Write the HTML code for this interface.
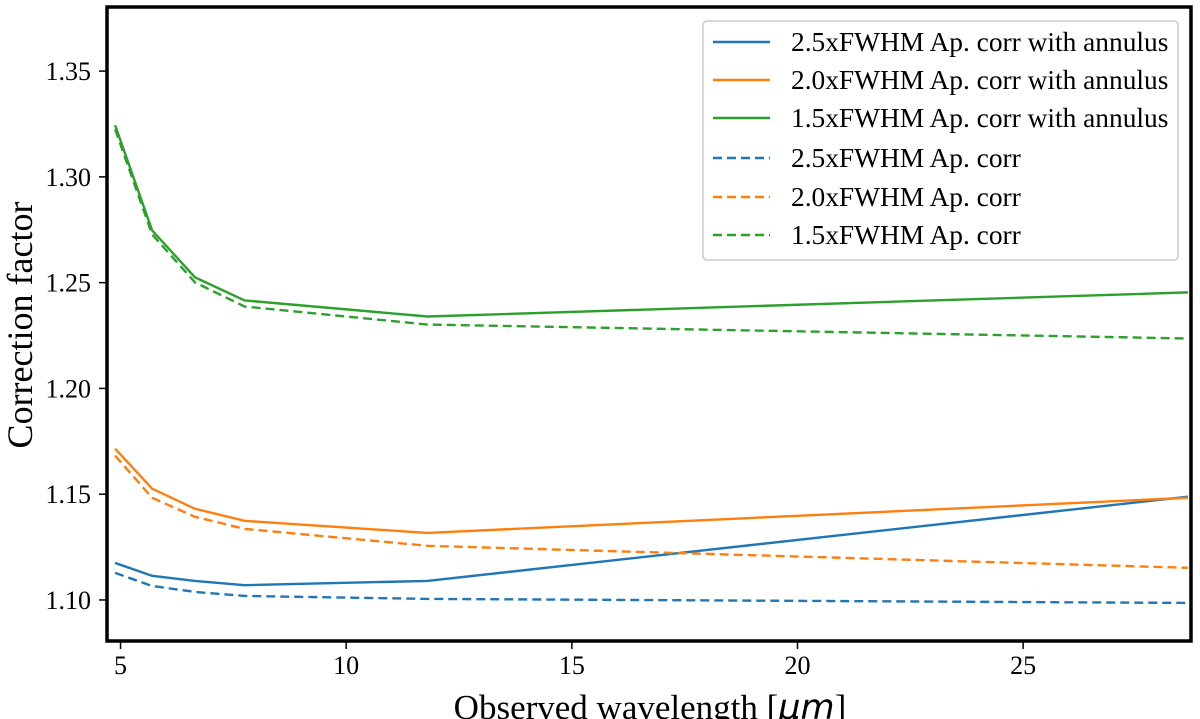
<!DOCTYPE html>
<html><head><meta charset="utf-8"><style>
body{margin:0;background:#fff}
svg{display:block;font-family:"Liberation Serif",serif}
</style></head><body>
<svg id="chart" width="1200" height="719"></svg>
<script>
const xs = [4.88, 5.7, 6.65, 7.75, 11.8, 28.65];
const blueSolid = [1.1175, 1.1114, 1.109, 1.107, 1.109, 1.1488];
const blueDashed = [1.1128, 1.1066, 1.1038, 1.1019, 1.1005, 1.0986];
const orangeSolid = [1.1715, 1.1526, 1.1431, 1.1374, 1.1317, 1.1483];
const orangeDashed = [1.1682, 1.1483, 1.1393, 1.1336, 1.1256, 1.1152];
const greenSolid = [1.3244, 1.2747, 1.2525, 1.2416, 1.234, 1.2454];
const greenDashed = [1.3225, 1.2728, 1.2501, 1.2387, 1.2302, 1.2236];
const xTicks = [5, 10, 15, 20, 25];
const yTicks = [1.10, 1.15, 1.20, 1.25, 1.30, 1.35];
const labels = ["2.5xFWHM Ap. corr with annulus","2.0xFWHM Ap. corr with annulus","1.5xFWHM Ap. corr with annulus","2.5xFWHM Ap. corr","2.0xFWHM Ap. corr","1.5xFWHM Ap. corr"];

const NS="http://www.w3.org/2000/svg";
const svg=document.getElementById('chart');
const X0=107,X1=1191,Y0=7,Y1=641;
const xmin=4.70,xmax=28.72,ymin=1.0806,ymax=1.3803;
const sx=v=>X0+(v-xmin)/(xmax-xmin)*(X1-X0);
const sy=v=>Y1-(v-ymin)/(ymax-ymin)*(Y1-Y0);
function mk(t,a){const e=document.createElementNS(NS,t);for(const k in a)e.setAttribute(k,a[k]);svg.appendChild(e);return e;}

const series=[
 [blueSolid,'#1f77b4',false,'series-2p5-annulus'],
 [orangeSolid,'#ff7f0e',false,'series-2p0-annulus'],
 [greenSolid,'#2ca02c',false,'series-1p5-annulus'],
 [blueDashed,'#1f77b4',true,'series-2p5'],
 [orangeDashed,'#ff7f0e',true,'series-2p0'],
 [greenDashed,'#2ca02c',true,'series-1p5']];
series.forEach(s=>{
 const p=mk('polyline',{points:xs.map((x,i)=>sx(x)+','+sy(s[0][i])).join(' '),fill:'none',stroke:s[1],'stroke-width':2.4,'stroke-dasharray':s[2]?'9,5':'none'});
 
 
});

xTicks.forEach(t=>{
 const l=mk('line',{x1:sx(t),x2:sx(t),y1:Y1,y2:Y1+8,stroke:'#000','stroke-width':1.5});
 
 
 const tx=mk('text',{x:sx(t),y:Y1+33,'text-anchor':'middle','font-size':26});
 tx.textContent=t;
 
 
});
yTicks.forEach(t=>{
 const l=mk('line',{x1:X0-8,x2:X0,y1:sy(t),y2:sy(t),stroke:'#000','stroke-width':1.5});
 
 
 const tx=mk('text',{x:X0-16,y:sy(t)+9,'text-anchor':'end','font-size':26});
 tx.textContent=t.toFixed(2);
 
 
});
const fr=mk('rect',{x:X0,y:Y0,width:X1-X0,height:Y1-Y0,fill:'none',stroke:'#000','stroke-width':3.5});



const xl=mk('text',{x:650,y:719,'text-anchor':'middle','font-size':35});
xl.innerHTML='Observed wavelength [<tspan font-style="italic" font-family="DejaVu Sans">μm</tspan>]';


const yl=mk('text',{x:0,y:0,'text-anchor':'middle','font-size':36,transform:'translate(32,325) rotate(-90)'});
yl.textContent='Correction factor';



const lg=mk('rect',{x:703,y:21,width:475,height:239,rx:4,fill:'#fff','fill-opacity':0.85,stroke:'#ccc','stroke-width':1.5});


const ly=[42,80,118,158,197,235];
series.forEach((s,i)=>{
 const l=mk('line',{x1:713,x2:770,y1:ly[i],y2:ly[i],stroke:s[1],'stroke-width':2.4,'stroke-dasharray':s[2]?'9,5':'none'});
 
 
 const t=mk('text',{x:791,y:ly[i]+9,'font-size':27.4});
 t.textContent=labels[i];
 
 
});
</script>
</body></html>
